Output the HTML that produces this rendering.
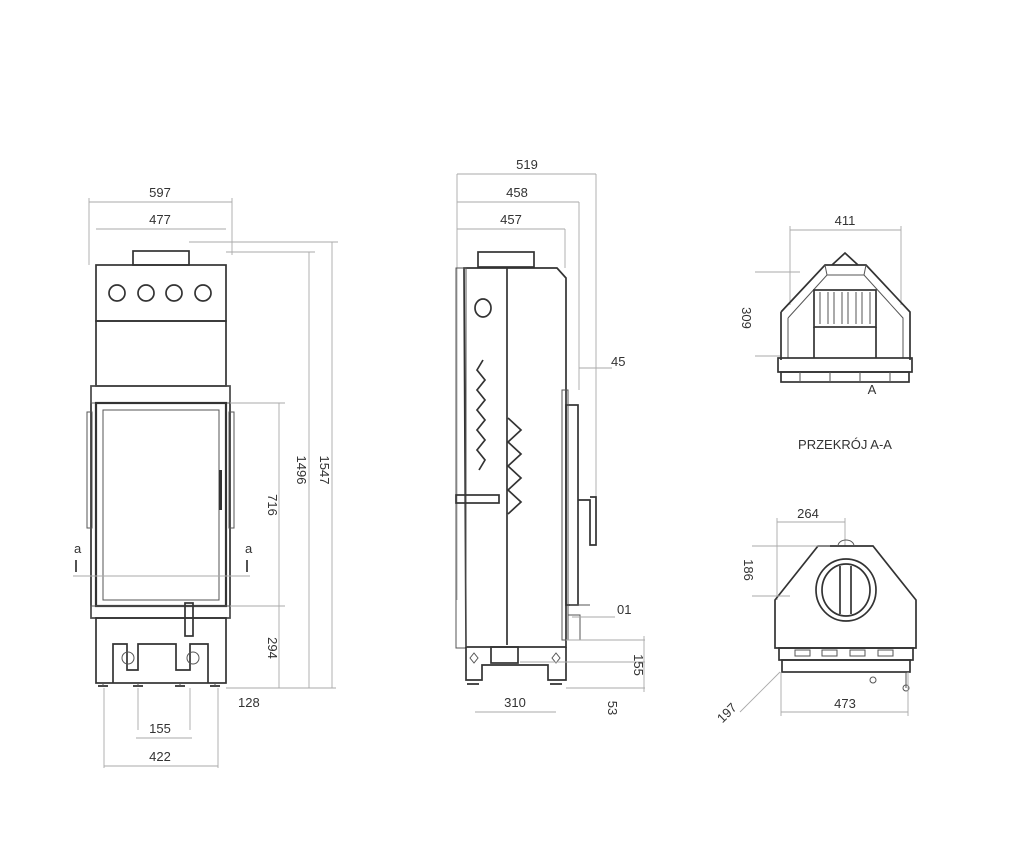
<!DOCTYPE html>
<html><head><meta charset="utf-8"><style>
html,body{margin:0;padding:0;background:#fff;}
svg{display:block;}
text{font-family:"Liberation Sans",sans-serif;font-size:13px;fill:#333;}
.d{stroke:#aaa;stroke-width:0.9;fill:none;}
.o{stroke:#333;stroke-width:1.7;fill:none;}
.t{stroke:#555;stroke-width:1;fill:none;}
</style></head><body>
<svg width="1024" height="852" viewBox="0 0 1024 852">
<!-- FRONT VIEW -->
<g>
<line class="d" x1="89" y1="202" x2="232" y2="202"/><line class="d" x1="89" y1="198" x2="89" y2="265"/><line class="d" x1="232" y1="198" x2="232" y2="255"/>
<text x="160" y="197" text-anchor="middle">597</text>
<line class="d" x1="96" y1="229" x2="226" y2="229"/>
<text x="160" y="224" text-anchor="middle">477</text>
<rect class="o" x="133" y="251" width="56" height="14"/>
<rect class="o" x="96" y="265" width="130" height="56"/>
<circle class="o" cx="117" cy="293" r="8"/><circle class="o" cx="146" cy="293" r="8"/><circle class="o" cx="174" cy="293" r="8"/><circle class="o" cx="203" cy="293" r="8"/>
<rect class="o" x="96" y="321" width="130" height="65"/>
<rect class="o" x="91" y="386" width="139" height="232" fill="#e4e4e4"/>
<rect class="t" x="91" y="386" width="139" height="17"/>
<rect x="96" y="403" width="130" height="203" fill="#fff" stroke="#333" stroke-width="2.2"/>
<rect class="t" x="103" y="410" width="116" height="190"/>
<rect class="t" x="87" y="412" width="5" height="116" fill="#ddd"/><rect class="t" x="229" y="412" width="5" height="116" fill="#ddd"/>
<rect x="219" y="470" width="3" height="40" fill="#333"/>
<rect class="t" x="91" y="606" width="139" height="12"/>
<rect class="o" x="185" y="603" width="8" height="33" fill="#ddd"/>
<rect class="o" x="96" y="618" width="130" height="65"/>
<path class="o" d="M113 683 V644 H127 V670 H138 V644 H176 V670 H190 V644 H208 V683"/>
<circle class="t" cx="128" cy="658" r="6"/><circle class="t" cx="193" cy="658" r="6"/>
<path class="o" d="M98 686 h10 M133 686 h10 M175 686 h10 M210 686 h10"/>
<line class="t" x1="103" y1="683" x2="103" y2="686"/><line class="t" x1="138" y1="683" x2="138" y2="686"/><line class="t" x1="180" y1="683" x2="180" y2="686"/><line class="t" x1="215" y1="683" x2="215" y2="686"/>
<line class="d" x1="73" y1="576" x2="250" y2="576"/>
<text x="74" y="553" font-size="8">a</text><line class="o" x1="76" y1="560" x2="76" y2="572"/>
<text x="245" y="553" font-size="8">a</text><line class="o" x1="247" y1="560" x2="247" y2="572"/>
<line class="d" x1="230" y1="403" x2="285" y2="403"/><line class="d" x1="230" y1="606" x2="285" y2="606"/>
<line class="d" x1="279" y1="403" x2="279" y2="688"/>
<text transform="translate(268,505) rotate(90)" text-anchor="middle">716</text>
<text transform="translate(268,648) rotate(90)" text-anchor="middle">294</text>
<line class="d" x1="226" y1="252" x2="315" y2="252"/><line class="d" x1="189" y1="242" x2="338" y2="242"/>
<line class="d" x1="309" y1="252" x2="309" y2="688"/><line class="d" x1="332" y1="242" x2="332" y2="688"/>
<text transform="translate(297,470) rotate(90)" text-anchor="middle">1496</text>
<text transform="translate(320,470) rotate(90)" text-anchor="middle">1547</text>
<line class="d" x1="226" y1="688" x2="336" y2="688"/>
<text x="238" y="707">128</text>
<line class="d" x1="138" y1="688" x2="138" y2="730"/><line class="d" x1="190" y1="688" x2="190" y2="730"/>
<line class="d" x1="136" y1="738" x2="192" y2="738"/>
<text x="160" y="733" text-anchor="middle">155</text>
<line class="d" x1="104" y1="688" x2="104" y2="768"/><line class="d" x1="218" y1="688" x2="218" y2="768"/>
<line class="d" x1="104" y1="766" x2="218" y2="766"/>
<text x="160" y="761" text-anchor="middle">422</text>
</g>
<!-- SIDE VIEW -->
<g>
<line class="d" x1="457" y1="174" x2="596" y2="174"/><text x="527" y="169" text-anchor="middle">519</text>
<line class="d" x1="457" y1="202" x2="579" y2="202"/><text x="517" y="197" text-anchor="middle">458</text>
<line class="d" x1="457" y1="229" x2="565" y2="229"/><text x="511" y="224" text-anchor="middle">457</text>
<line class="d" x1="457" y1="174" x2="457" y2="600"/><line class="d" x1="596" y1="174" x2="596" y2="500"/>
<line class="d" x1="579" y1="202" x2="579" y2="390"/><line class="d" x1="565" y1="229" x2="565" y2="268"/>
<rect class="o" x="478" y="252" width="56" height="15"/>
<path class="o" d="M464 268 H557 L566 278 V647 H466 Z"/>
<rect class="t" x="456" y="268" width="10" height="380"/>
<line class="o" x1="507" y1="268" x2="507" y2="645"/>
<ellipse class="o" cx="483" cy="308" rx="8" ry="9"/>
<path class="o" d="M483 360 l-6 10 l8 10 l-8 10 l8 10 l-8 10 l8 10 l-8 10 l8 10 l-8 10 l8 10 l-6 10" stroke-width="2.4"/>
<path class="o" d="M508 418 l13 12 l-13 12 l13 12 l-13 12 l13 12 l-13 12 l13 12 l-13 12"/>
<rect class="o" x="456" y="495" width="43" height="8" fill="#ddd"/>
<rect class="o" x="566" y="405" width="12" height="200"/>
<rect class="t" x="562" y="390" width="6" height="250" fill="#ddd"/>
<path class="o" d="M578 500 H590 V545 H596 V497 H590"/>
<path class="t" d="M570 605 h20 M568 615 h12 V640 h-12"/>
<path class="o" d="M466 647 V680 H482 V665 H548 V680 H566 V647"/>
<rect class="o" x="491" y="647" width="27" height="16"/>
<path class="t" d="M470 658 l4 -5 l4 5 l-4 5 z M552 658 l4 -5 l4 5 l-4 5 z"/>
<path class="o" d="M467 684 h12 M550 684 h12"/>
<line class="d" x1="579" y1="368" x2="612" y2="368"/><text x="611" y="366">45</text>
<line class="d" x1="572" y1="617" x2="615" y2="617"/><text x="617" y="614">01</text>
<line class="d" x1="566" y1="640" x2="645" y2="640"/><line class="d" x1="520" y1="662" x2="645" y2="662"/><line class="d" x1="566" y1="688" x2="645" y2="688"/>
<line class="d" x1="644" y1="636" x2="644" y2="692"/>
<text transform="translate(634,665) rotate(90)" text-anchor="middle">155</text>
<line class="d" x1="475" y1="712" x2="556" y2="712"/><text x="515" y="707" text-anchor="middle">310</text>
<text transform="translate(608,708) rotate(90)" text-anchor="middle" font-size="11">53</text>
</g>
<!-- SECTION A-A TOP -->
<g>
<line class="d" x1="790" y1="230" x2="901" y2="230"/><text x="845" y="225" text-anchor="middle">411</text>
<line class="d" x1="790" y1="226" x2="790" y2="305"/><line class="d" x1="901" y1="226" x2="901" y2="305"/>
<path class="o" d="M832 265 L845 253 L858 265"/>
<path class="o" d="M781 312 L825 265 H866 L910 312 V360 M781 312 V360"/>
<path class="t" d="M788 318 L827 275 H864 L903 318 V358 M788 318 V358"/>
<line class="t" x1="827" y1="275" x2="825" y2="265"/><line class="t" x1="864" y1="275" x2="866" y2="265"/>
<rect class="o" x="814" y="290" width="62" height="37"/>
<path class="t" d="M820 292 v32 M828 292 v32 M834 292 v32 M842 292 v32 M848 292 v32 M856 292 v32 M862 292 v32 M870 292 v32" stroke-width="1.6"/>
<line class="o" x1="814" y1="327" x2="814" y2="358"/><line class="o" x1="876" y1="327" x2="876" y2="358"/>
<rect class="o" x="778" y="358" width="134" height="14"/>
<rect class="o" x="781" y="372" width="128" height="10"/>
<path class="t" d="M800 372 v10 M830 372 v10 M860 372 v10 M890 372 v10"/>
<text x="872" y="394" font-size="8" text-anchor="middle">A</text>
<line class="d" x1="755" y1="272" x2="800" y2="272"/><line class="d" x1="755" y1="356" x2="780" y2="356"/>
<text transform="translate(742,318) rotate(90)" text-anchor="middle" font-size="12">309</text>
<text x="845" y="449" text-anchor="middle" font-size="14">PRZEKRÓJ A-A</text>
</g>
<!-- SECTION BOTTOM -->
<g>
<line class="d" x1="777" y1="522" x2="845" y2="522"/><text x="808" y="518" text-anchor="middle" font-size="12">264</text>
<line class="d" x1="777" y1="518" x2="777" y2="600"/><line class="d" x1="845" y1="518" x2="845" y2="546"/>
<path class="o" d="M775 600 L818 546 H873 L916 600 V648 H775 Z"/>
<path class="t" d="M838 546 a8 6 0 0 1 16 0"/>
<ellipse class="o" cx="846" cy="590" rx="30" ry="31"/>
<ellipse class="o" cx="846" cy="590" rx="24" ry="26" stroke-width="2.4"/>
<line class="o" x1="840" y1="566" x2="840" y2="614"/><line class="o" x1="851" y1="566" x2="851" y2="614"/>
<rect class="o" x="779" y="648" width="134" height="12"/>
<rect class="o" x="782" y="660" width="128" height="12"/>
<path class="t" d="M795 650 h15 v6 h-15z M822 650 h15 v6 h-15z M850 650 h15 v6 h-15z M878 650 h15 v6 h-15z"/>
<circle class="t" cx="873" cy="680" r="3"/><line class="t" x1="906" y1="672" x2="906" y2="688"/><circle class="t" cx="906" cy="688" r="3"/>
<line class="d" x1="752" y1="546" x2="830" y2="546"/><line class="d" x1="752" y1="596" x2="790" y2="596"/>
<text transform="translate(744,570) rotate(90)" text-anchor="middle" font-size="12">186</text>
<line class="d" x1="781" y1="712" x2="908" y2="712"/><line class="d" x1="781" y1="672" x2="781" y2="716"/><line class="d" x1="908" y1="672" x2="908" y2="716"/>
<text x="845" y="708" text-anchor="middle" font-size="12">473</text>
<line class="d" x1="740" y1="712" x2="780" y2="672"/>
<text transform="translate(730,716) rotate(-45)" text-anchor="middle" font-size="12">197</text>
</g>
</svg>
</body></html>
